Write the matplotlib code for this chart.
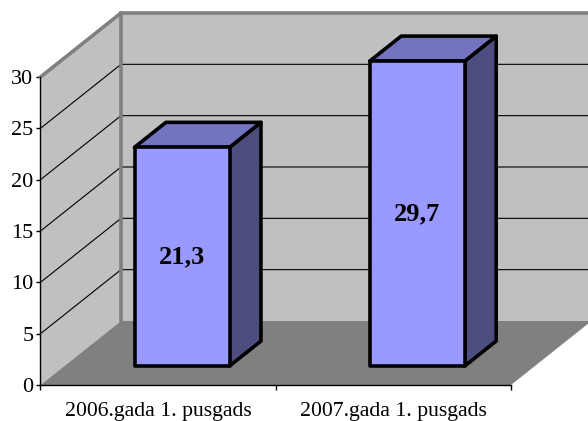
import matplotlib
matplotlib.use("Agg")
import matplotlib.pyplot as plt
from matplotlib.patches import Polygon

categories = ["2006.gada 1. pusgads", "2007.gada 1. pusgads"]
values = [21.3, 29.7]
value_labels = ["21,3", "29,7"]
y_ticks = [0, 5, 10, 15, 20, 25, 30]

plt.rcParams["font.family"] = ["Liberation Serif", "DejaVu Serif"]
W, H = 588, 421
fig = plt.figure(figsize=(W / 100, H / 100), dpi=100, facecolor="white")
L, R, B, T = 40.5, 511, 385, 77
ax = fig.add_axes([L / W, 1 - B / H, (R - L) / W, (B - T) / H], facecolor="none")
n = len(categories)
ymax = y_ticks[-1]
ax.set_xlim(0, n)
ax.set_ylim(0, ymax)

# oblique projection: full depth moves right and up by these data amounts
DX = 80.5 / ((R - L) / n)
DY = 64 / ((B - T) / ymax)


def proj(x, v, d=0.0):
    return (x + d * DX, v + d * DY)


def poly(pts, **kw):
    kw.setdefault("clip_on", False)
    ax.add_patch(Polygon([proj(*p) for p in pts], closed=True, **kw))


def line(pts, color, lw, z):
    xs, ys = zip(*[proj(*p) for p in pts])
    ax.plot(xs, ys, color=color, lw=lw, zorder=z, clip_on=False,
            solid_capstyle="projecting", solid_joinstyle="miter")


WALL, FLOOR, EDGE = "#c0c0c0", "#808080", "#808080"
# walls and floor
poly([(0, 0, 0), (0, 0, 1), (0, ymax, 1), (0, ymax, 0)], fc=WALL, ec="none", zorder=1)
poly([(0, 0, 1), (n, 0, 1), (n, ymax, 1), (0, ymax, 1)], fc=WALL, ec="none", zorder=1)
poly([(0, 0, 0), (n, 0, 0), (n, 0, 1), (0, 0, 1)], fc=FLOOR, ec="none", zorder=1)

# gridlines
for t in y_ticks[1:-1]:
    line([(0, t, 0), (0, t, 1), (n, t, 1)], "black", 0.8, 2)

# wall frame
line([(0, ymax, 0), (0, ymax, 1), (n, ymax, 1)], EDGE, 2.6, 3)
line([(0, 0, 1), (0, ymax, 1)], EDGE, 2.6, 3)

# bars
D0, D1 = 0.297, 0.687
hw = 0.202
FACE, TOP, SIDE = "#9999ff", "#7373bf", "#4d4d80"
for i, (v, lab) in enumerate(zip(values, value_labels)):
    c = i + 0.5
    x0, x1 = c - hw, c + hw
    style = dict(ec="black", lw=2.6, joinstyle="round", zorder=4 + i)
    poly([(x1, 0, D0), (x1, 0, D1), (x1, v, D1), (x1, v, D0)], fc=SIDE, **style)
    poly([(x0, v, D0), (x1, v, D0), (x1, v, D1), (x0, v, D1)], fc=TOP, **style)
    poly([(x0, 0, D0), (x1, 0, D0), (x1, v, D0), (x0, v, D0)], fc=FACE, **style)
    tx, ty = proj(c, v / 2, D0)
    ax.text(tx, ty, lab, ha="center", va="center", fontsize=19,
            fontweight="bold", color="black", zorder=10)

# axes
for s in ("top", "right"):
    ax.spines[s].set_visible(False)
for s in ("left", "bottom"):
    ax.spines[s].set_linewidth(1.0)
    ax.spines[s].set_color("black")
    ax.spines[s].set_zorder(6)
ax.set_yticks(y_ticks)
ax.set_yticklabels([str(t) for t in y_ticks])
ax.tick_params(axis="y", length=3, width=1, pad=2, labelsize=16)
ax.set_xticks(range(n + 1))
ax.set_xticklabels([""] * (n + 1))
ax.tick_params(axis="x", length=3.5, width=1)
ax.set_xticks([i + 0.5 for i in range(n)], minor=True)
ax.set_xticklabels(categories, minor=True)
ax.tick_params(axis="x", which="minor", length=0, pad=12.5, labelsize=15.7)

fig.savefig("out.png", dpi=100)
